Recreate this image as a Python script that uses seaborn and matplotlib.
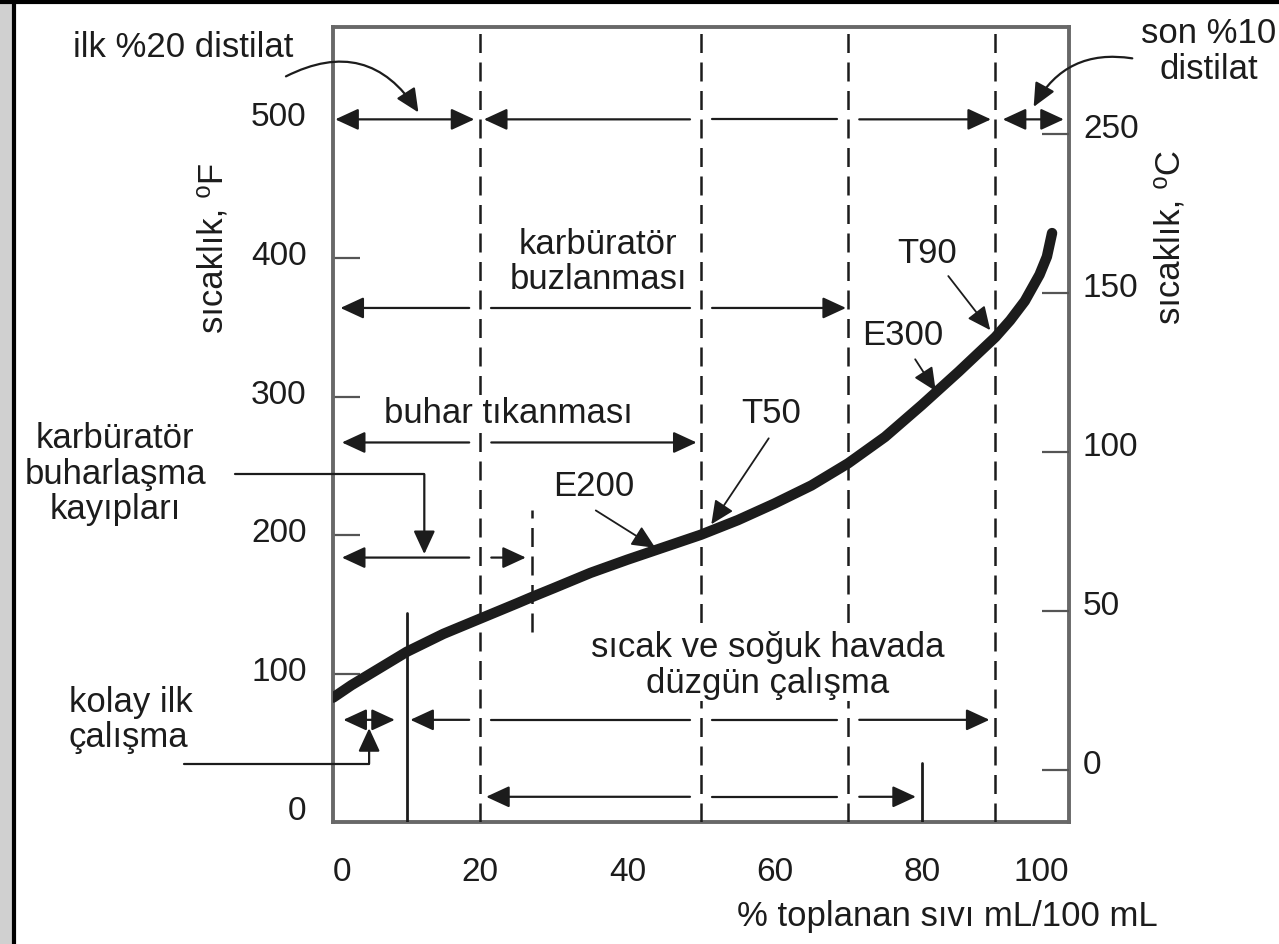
import matplotlib
matplotlib.use("Agg")
import matplotlib.pyplot as plt
import matplotlib.transforms as mtransforms
from matplotlib.patches import Rectangle
from matplotlib.lines import Line2D
import seaborn as sns

# distillation curve (% recovered -> temperature, F)
pct_recovered = [0, 2.5, 5, 7.5, 10, 15, 20, 25, 27, 30, 35, 40, 45, 50, 55,
                 60, 65, 70, 75, 80, 85, 90, 92, 94, 96, 97, 97.7]
temp_f = [83, 92, 100, 108, 116, 129, 140, 151, 155.5, 162, 173, 182.5, 191.5,
          200.5, 211, 223, 236, 252, 271, 294, 318, 343, 355, 369, 388, 401, 418]

x_ticks = [0, 20, 40, 60, 80, 100]
f_ticks = [100, 200, 300, 400]
f_end_ticks = [0, 500]
c_ticks = [0, 50, 100, 150, 200]
c_tick_labels = ["0", "50", "100", "150", "250"]

# boundaries (% recovered) drawn as dashed lines
dashed_x = [20, 50, 70, 90]
# (x, from F, to F)
short_dashed = [(27, 130, 218)]
solid_marks = [(10, -6.7, 144), (80, -6.7, 36)]

# double arrows: (from %, to %, at F)
ranges = [(0.3, 19.2, 500), (20.5, 89.4, 500), (91.0, 99.3, 500),
          (1.0, 69.7, 364), (1.2, 49.4, 267), (1.2, 26.2, 184),
          (1.4, 8.4, 67), (10.5, 89.2, 67), (20.8, 79.2, 11.5)]

# point labels on the curve: text, text pos, arrow start, arrow tip
pointers = [("E200", (35.4, 235), (35.7, 218), (43.8, 191)),
            ("T50", (59.6, 288), (59.2, 270), (51.4, 208)),
            ("E300", (77.4, 344), (79.1, 327), (81.9, 304)),
            ("T90", (80.7, 403), (83.6, 387), (89.3, 348))]

# text, position, alignment, white background
region_texts = [("karbüratör\nbuzlanması", (36, 397), "center", False),
                ("buhar tıkanması", (23.8, 288), "center", True),
                ("sıcak ve soğuk havada\ndüzgün çalışma", (59.1, 106), "center", True),
                ("karbüratör\nbuharlaşma\nkayıpları", (-29.6, 244), "center", False),
                ("kolay ilk\nçalışma", (-35.9, 67), "left", False),
                ("ilk %20 distilat", (-20.4, 552), "center", False),
                ("son %10\ndistilat", (119, 549), "center", False)]

FS = 24
FS_TEXT = 25
INK = "#1c1c1c"
GAP = 1.5
HEAD = "head_length=0.65,head_width=0.3"
MS = 22

sns.set_theme(style="ticks")
plt.rcParams["font.family"] = ["Liberation Sans", "DejaVu Sans"]

fig = plt.figure(figsize=(12.79, 9.44), dpi=100)
fig.patch.set_facecolor("white")
ax = fig.add_axes([0.2604, 0.1292, 0.5754, 0.8422])
ax.set_xlim(0, 100)
ax.set_ylim(-6.7, 566.6)

sns.lineplot(x=pct_recovered, y=temp_f, ax=ax, color=INK, linewidth=7.5,
             solid_capstyle="round", solid_joinstyle="round", zorder=6)

for xv in dashed_x:
    ax.axvline(xv, color=INK, lw=1.8, dashes=(7.6, 3.8), zorder=3)
for xv, y0, y1 in short_dashed:
    ax.plot([xv, xv], [y0, y1], color=INK, lw=1.8, dashes=(7.6, 3.8), zorder=3)
for xv, y0, y1 in solid_marks:
    ax.plot([xv, xv], [y0, y1], color=INK, lw=2, zorder=3)


def arrow(xy_from, xy_to, style, lw=1.6, conn="arc3"):
    ax.annotate("", xy=xy_to, xytext=xy_from, annotation_clip=False,
                arrowprops=dict(arrowstyle=style, color=INK, lw=lw,
                                mutation_scale=MS, shrinkA=0, shrinkB=0,
                                connectionstyle=conn),
                zorder=4)


def span_arrow(x0, x1, y):
    cuts = [c for c in dashed_x if x0 + 1 < c < x1 - 1]
    edges = [x0] + [v for c in cuts for v in (c - GAP, c + GAP)] + [x1]
    segs = list(zip(edges[0::2], edges[1::2]))
    for i, (a, b) in enumerate(segs):
        first, last = i == 0, i == len(segs) - 1
        if first and last:
            arrow((a, y), (b, y), "<|-|>," + HEAD)
        elif first:
            arrow((a, y), (b, y), "<|-," + HEAD)
        elif last:
            arrow((a, y), (b, y), "-|>," + HEAD)
        else:
            ax.plot([a, b], [y, y], color=INK, lw=1.6, zorder=4)


for x0, x1, y in ranges:
    span_arrow(x0, x1, y)

# connectors from the side labels
ax.plot([-13.3, 12.4], [244, 244], color=INK, lw=1.6, clip_on=False, zorder=4)
arrow((12.4, 244), (12.4, 186.5), "-|>," + HEAD)
ax.plot([-20.2, 4.9], [35.5, 35.5], color=INK, lw=1.6, clip_on=False, zorder=4)
arrow((4.9, 35.5), (4.9, 61), "-|>," + HEAD)

# curved arrows for the first 20 % and last 10 %
arrow((-6.4, 531), (11.6, 505), "-|>," + HEAD, conn="arc3,rad=-0.45")
arrow((108.6, 544), (95.2, 509), "-|>," + HEAD, conn="arc3,rad=0.35")

for label, pos, start, tip in pointers:
    ax.text(*pos, label, fontsize=FS_TEXT, color=INK, ha="center",
            va="center", zorder=7)
    arrow(start, tip, "-|>," + HEAD, lw=1.3)

for label, pos, ha, boxed in region_texts:
    box = dict(facecolor="white", edgecolor="none", pad=1) if boxed else None
    ax.text(*pos, label, fontsize=FS_TEXT, color=INK, ha=ha, va="center",
            linespacing=1.1, clip_on=False, zorder=5, bbox=box)

# axes, ticks and labels
for side in ["left", "right", "top", "bottom"]:
    ax.spines[side].set_visible(True)
    ax.spines[side].set_color("#686868")
    ax.spines[side].set_linewidth(2.8)

ax.set_xticks(x_ticks)
xl = ax.set_xticklabels([str(v) for v in x_ticks])
xl[0].set_ha("left")
xl[-1].set_ha("right")
ax.tick_params(axis="x", length=0, pad=25, labelsize=FS, labelcolor=INK)

ax.set_yticks(f_ticks)
ax.set_yticklabels([str(v) for v in f_ticks])
ax.set_yticks(f_end_ticks, minor=True)
ax.set_yticklabels([str(v) for v in f_end_ticks], minor=True)
ax.tick_params(axis="y", which="major", left=True, direction="in",
               length=19.5, width=1.6, color="#555555", pad=19,
               labelsize=FS, labelcolor=INK)
ax.tick_params(axis="y", which="minor", left=True, direction="in", length=0,
               pad=19, labelsize=FS, labelcolor=INK)

ax2 = ax.twinx()
ax2.set_ylim(-16.35, 233.6)
ax2.set_yticks(c_ticks)
ax2.set_yticklabels(c_tick_labels)
ax2.tick_params(axis="y", right=True, left=False, direction="in", length=19.5,
                width=1.6, color="#555555", pad=10, labelsize=FS,
                labelcolor=INK)
for side in ["left", "right", "top", "bottom"]:
    ax2.spines[side].set_visible(False)

shift_l = mtransforms.ScaledTranslation(0, 0.05, fig.dpi_scale_trans)
shift_r = mtransforms.ScaledTranslation(0, 0.08, fig.dpi_scale_trans)
for lbl in ax.get_yticklabels() + ax.get_yticklabels(minor=True):
    lbl.set_transform(lbl.get_transform() + shift_l)
for lbl in ax2.get_yticklabels():
    lbl.set_transform(lbl.get_transform() + shift_r)

ax.set_ylabel("sıcaklık, ⁰F", fontsize=FS_TEXT, color=INK, va="center")
ax.yaxis.set_label_coords(-0.163, 0.722)
ax2.set_ylabel("sıcaklık, ⁰C", fontsize=FS_TEXT, color=INK, va="center")
ax2.yaxis.set_label_coords(1.137, 0.736)
ax.set_xlabel("% toplanan sıvı mL/100 mL", fontsize=FS_TEXT, color=INK,
              ha="right", va="top")
ax.xaxis.set_label_coords(1.121, -0.098)

# picture frame
fig.add_artist(Rectangle((0, 0), 12 / 1279, 1, transform=fig.transFigure,
                         facecolor="#d0d0d0", edgecolor="none"))
fig.add_artist(Line2D([14 / 1279, 14 / 1279], [0, 1], transform=fig.transFigure,
                      color="black", lw=3))
fig.add_artist(Line2D([0, 1], [1 - 1.5 / 944, 1 - 1.5 / 944],
                      transform=fig.transFigure, color="black", lw=3))

fig.savefig("out.png", dpi=100, facecolor="white")
